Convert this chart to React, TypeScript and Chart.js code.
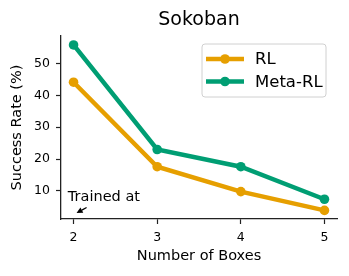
import React, { useEffect, useRef } from "react";
import { Chart, registerables } from "chart.js";

Chart.register(...registerables);

const numBoxes = [2, 3, 4, 5];
const rlValues = [44.1, 17.6, 9.8, 3.9];
const metaRlValues = [55.8, 23.0, 17.6, 7.4];
const xTicks = [2, 3, 4, 5];
const yTicks = [10, 20, 30, 40, 50];
const seriesNames = ["RL", "Meta-RL"];
const seriesColors = ["#E69F00", "#009E73"];
const titleText = "Sokoban";
const xLabel = "Number of Boxes";
const yLabel = "Success Rate (%)";
const annotationText = "Trained at";
const annotationTextPos = [1.932, 7.0];
const annotationArrowTail = [2.156, 4.8];
const annotationArrowTip = [2.036, 3.1];

const FONT = "'DejaVu Sans', sans-serif";

export default function App() {
  const ref = useRef<HTMLCanvasElement | null>(null);

  useEffect(() => {
    document.body.style.margin = "0";
    const canvas = ref.current;
    if (!canvas) return;

    const overlay = {
      id: "overlay",
      afterDatasetsDraw(chart: any) {
        const ctx = chart.ctx;
        const xs = chart.scales.x;
        const ys = chart.scales.y;
        const area = chart.chartArea;
        ctx.save();
        // title centered over the axes
        ctx.fillStyle = "#000";
        ctx.font = `19px ${FONT}`;
        ctx.textAlign = "center";
        ctx.textBaseline = "middle";
        ctx.fillText(titleText, (area.left + area.right) / 2, 20);

        // annotation
        ctx.font = `14.5px ${FONT}`;
        ctx.textBaseline = "alphabetic";
        ctx.textAlign = "left";
        ctx.fillText(
          annotationText,
          xs.getPixelForValue(annotationTextPos[0]),
          ys.getPixelForValue(annotationTextPos[1])
        );
        const tx = xs.getPixelForValue(annotationArrowTail[0]);
        const ty = ys.getPixelForValue(annotationArrowTail[1]);
        const hx = xs.getPixelForValue(annotationArrowTip[0]);
        const hy = ys.getPixelForValue(annotationArrowTip[1]);
        const ang = Math.atan2(hy - ty, hx - tx);
        const headLen = 6;
        const headW = 3;
        const bx = hx - headLen * Math.cos(ang);
        const by = hy - headLen * Math.sin(ang);
        ctx.strokeStyle = "#000";
        ctx.lineWidth = 1.3;
        ctx.beginPath();
        ctx.moveTo(tx, ty);
        ctx.lineTo(bx, by);
        ctx.stroke();
        ctx.beginPath();
        ctx.moveTo(hx, hy);
        ctx.lineTo(bx + headW * Math.sin(ang), by - headW * Math.cos(ang));
        ctx.lineTo(bx - headW * Math.sin(ang), by + headW * Math.cos(ang));
        ctx.closePath();
        ctx.fill();

        // legend
        const lw = 124;
        const lh = 53;
        const lx = area.right - 11 - lw;
        const ly = area.top + 8;
        ctx.beginPath();
        ctx.roundRect(lx, ly, lw, lh, 3);
        ctx.fillStyle = "rgba(255,255,255,0.8)";
        ctx.fill();
        ctx.strokeStyle = "#d0d0d0";
        ctx.lineWidth = 1;
        ctx.stroke();
        const rows = [ly + 15, ly + 37.5];
        seriesNames.forEach((name, i) => {
          const ry = rows[i];
          ctx.strokeStyle = seriesColors[i];
          ctx.lineWidth = 4.5;
          ctx.beginPath();
          ctx.moveTo(lx + 4, ry);
          ctx.lineTo(lx + 42, ry);
          ctx.stroke();
          ctx.fillStyle = seriesColors[i];
          ctx.beginPath();
          ctx.arc(lx + 23, ry, 4.8, 0, Math.PI * 2);
          ctx.fill();
          ctx.fillStyle = "#000";
          ctx.font = `16.5px ${FONT}`;
          ctx.textBaseline = "middle";
          ctx.fillText(name, lx + 53, ry + 1);
        });
        ctx.restore();
      },
    };

    const chart = new Chart(canvas, {
      type: "line",
      data: {
        datasets: [
          {
            label: seriesNames[0],
            data: numBoxes.map((x, i) => ({ x, y: rlValues[i] })),
            borderColor: seriesColors[0],
            backgroundColor: seriesColors[0],
            borderWidth: 4.5,
            pointRadius: 4.8,
            pointBorderWidth: 0,
            pointHoverRadius: 4.8,
          },
          {
            label: seriesNames[1],
            data: numBoxes.map((x, i) => ({ x, y: metaRlValues[i] })),
            borderColor: seriesColors[1],
            backgroundColor: seriesColors[1],
            borderWidth: 4.5,
            pointRadius: 4.8,
            pointBorderWidth: 0,
            pointHoverRadius: 4.8,
          },
        ],
      },
      options: {
        responsive: false,
        animation: false,
        layout: { padding: { left: 0, right: 12, top: 36, bottom: 0 } },
        plugins: {
          legend: { display: false },
          tooltip: { enabled: false },
          title: { display: false },
        },
        scales: {
          x: {
            type: "linear",
            min: 1.85,
            max: 5.15,
            afterBuildTicks: (axis: any) => {
              axis.ticks = xTicks.map((v) => ({ value: v }));
            },
            afterFit: (axis: any) => {
              axis.height = 57;
            },
            grid: {
              display: true,
              drawOnChartArea: false,
              drawTicks: true,
              tickLength: 5,
              tickColor: "#222",
              tickWidth: 1.2,
            },
            border: { display: true, color: "#222", width: 1.3 },
            ticks: {
              color: "#000",
              font: { family: FONT, size: 12.5 },
              padding: 6,
              callback: (v: any) => String(v),
            },
            title: {
              display: true,
              text: xLabel,
              color: "#000",
              font: { family: FONT, size: 14.5 },
              padding: { top: 0, bottom: 11 },
            },
          },
          y: {
            type: "linear",
            min: 1.2,
            max: 58.6,
            afterBuildTicks: (axis: any) => {
              axis.ticks = yTicks.map((v) => ({ value: v }));
            },
            afterFit: (axis: any) => {
              axis.width = 61;
            },
            grid: {
              display: true,
              drawOnChartArea: false,
              drawTicks: true,
              tickLength: 5,
              tickColor: "#222",
              tickWidth: 1.2,
            },
            border: { display: true, color: "#222", width: 1.3 },
            ticks: {
              color: "#000",
              font: { family: FONT, size: 12.5 },
              padding: 6,
              callback: (v: any) => String(v),
            },
            title: {
              display: true,
              text: yLabel,
              color: "#000",
              font: { family: FONT, size: 14.5 },
              padding: { top: 9, bottom: 0 },
            },
          },
        },
      },
      plugins: [overlay],
    });

    return () => chart.destroy();
  }, []);

  return <canvas ref={ref} width={349} height={276} style={{ display: "block" }} />;
}
